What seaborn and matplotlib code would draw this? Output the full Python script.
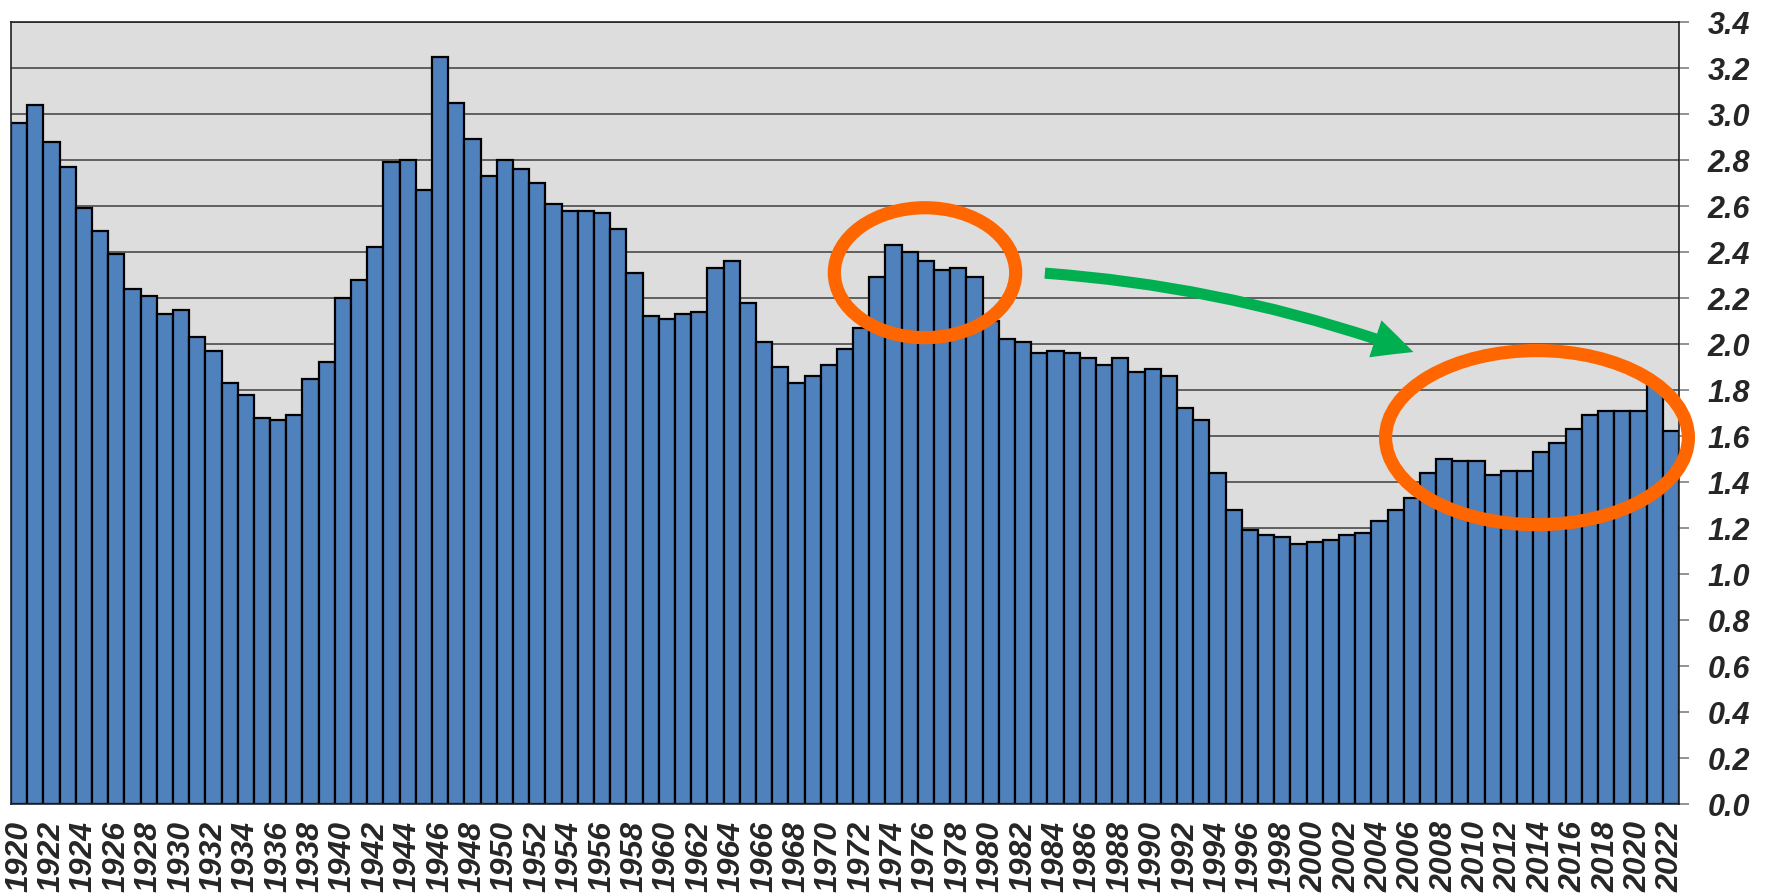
import matplotlib
matplotlib.use("Agg")
import matplotlib.pyplot as plt
import matplotlib.ticker as mticker
from matplotlib.patches import Ellipse, FancyArrowPatch
import seaborn as sns
import pandas as pd

# Total fertility rate by year
years = list(range(1920, 2023))
rates = [
    2.96, 3.04, 2.88, 2.77, 2.59, 2.49, 2.39, 2.24, 2.21, 2.13,   # 1920-1929
    2.15, 2.03, 1.97, 1.83, 1.78, 1.68, 1.67, 1.69, 1.85, 1.92,   # 1930-1939
    2.20, 2.28, 2.42, 2.79, 2.80, 2.67, 3.25, 3.05, 2.89, 2.73,   # 1940-1949
    2.80, 2.76, 2.70, 2.61, 2.58, 2.58, 2.57, 2.50, 2.31, 2.12,   # 1950-1959
    2.11, 2.13, 2.14, 2.33, 2.36, 2.18, 2.01, 1.90, 1.83, 1.86,   # 1960-1969
    1.91, 1.98, 2.07, 2.29, 2.43, 2.40, 2.36, 2.32, 2.33, 2.29,   # 1970-1979
    2.10, 2.02, 2.01, 1.96, 1.97, 1.96, 1.94, 1.91, 1.94, 1.88,   # 1980-1989
    1.89, 1.86, 1.72, 1.67, 1.44, 1.28, 1.19, 1.17, 1.16, 1.13,   # 1990-1999
    1.14, 1.15, 1.17, 1.18, 1.23, 1.28, 1.33, 1.44, 1.50, 1.49,   # 2000-2009
    1.49, 1.43, 1.45, 1.45, 1.53, 1.57, 1.63, 1.69, 1.71, 1.71,   # 2010-2019
    1.71, 1.82, 1.62,                                             # 2020-2022
]
y_ticks = [round(0.2 * i, 1) for i in range(18)]
x_tick_years = years[::2]

df = pd.DataFrame({"year": years, "rate": rates})

sns.set_style("white")
plt.rcParams["font.family"] = ["Liberation Sans", "DejaVu Sans"]

W, H = 1769, 896
fig = plt.figure(figsize=(W / 100, H / 100), dpi=100)
ax = fig.add_axes([11 / W, 92 / H, 1668 / W, 782 / H])
ax.set_facecolor("#DDDDDD")

sns.barplot(data=df, x="year", y="rate", color="#4F81BD", saturation=1,
            width=1.0, edgecolor="black", linewidth=1.6, ax=ax, zorder=2)

ax.set_xlim(-0.5, len(years) - 0.5)
ax.set_ylim(0, 3.4)
ax.set_xlabel("")
ax.set_ylabel("")

# horizontal grid behind the bars
ax.set_axisbelow(True)
ax.yaxis.grid(True, color="#4A4A4A", linewidth=1.2, zorder=0)
ax.xaxis.grid(False)

# value axis on the right
ax.yaxis.tick_right()
ax.set_yticks(y_ticks)
ax.yaxis.set_major_formatter(mticker.FormatStrFormatter("%.1f"))
ax.tick_params(axis="y", which="both", direction="out", length=7.5, width=1.2,
               color="#808080", pad=13, labelsize=22, right=True, left=False)
for lab in ax.get_yticklabels():
    lab.set_fontweight("bold")
    lab.set_fontstyle("italic")

# every other year along the bottom
ax.set_xticks([years.index(y) for y in x_tick_years])
ax.set_xticklabels([str(y) for y in x_tick_years], rotation=90,
                   fontsize=23, fontweight="bold", fontstyle="italic")
ax.tick_params(axis="x", length=0, pad=12)

for side in ["top", "bottom", "left", "right"]:
    ax.spines[side].set_visible(True)
    ax.spines[side].set_color("#222222")
    ax.spines[side].set_linewidth(1.2)

# highlight the mid-1970s peak and the recent recovery
def pos(year):
    return years.index(year)

ring_kw = dict(fill=False, edgecolor="#FF6600", linewidth=9.5, zorder=5, clip_on=False)
ax.add_patch(Ellipse((pos(1976) - 0.06, 2.31), width=11.2, height=0.565, **ring_kw))
ax.add_patch(Ellipse((pos(2014) - 0.27, 1.593), width=18.7, height=0.757, **ring_kw))

arrow = FancyArrowPatch(
    (pos(1983) + 0.17, 2.309), (pos(2006) + 0.26, 1.961),
    connectionstyle="arc3,rad=-0.07",
    arrowstyle="simple,head_length=29,head_width=28,tail_width=8",
    mutation_scale=1, color="#00B050", linewidth=0, zorder=6, clip_on=False,
)
ax.add_patch(arrow)

fig.savefig("out.png", dpi=100, facecolor="white")
